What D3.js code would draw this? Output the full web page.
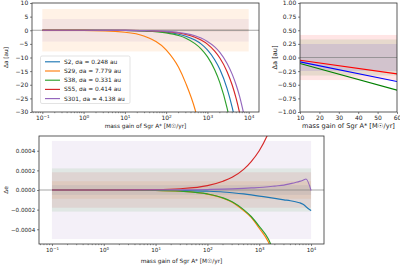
<!DOCTYPE html>
<html>
<head>
<meta charset="utf-8">
<script src="https://cdn.jsdelivr.net/npm/d3@7"></script>
<style>
  body { margin: 0; background: #fff; }
  svg text { font-family: "DejaVu Sans", sans-serif; fill: #222; }
</style>
</head>
<body>
<div id="container"></div>
<script>
/* DATA */
const stars = ["S2", "S29", "S38", "S55", "S301"];
const sigmaA = [0.248, 7.779, 0.331, 0.414, 4.138];
const sigmaE = [0.00005, 0.00009, 0.00022, 0.00018, 0.0005];

const massGain = [0.1, 1, 10, 30, 100, 200, 300, 500, 700, 1000, 1500, 2000, 3000, 4000, 5000, 6000, 7000, 8000, 10000];

// delta a [au]
const dA_S2   = [-0.0007, -0.007, -0.072, -0.22, -0.72, -1.45, -2.2, -3.6, -5.0, -7.2, -10.8, -14.3, -21.4, -28.4, -35.3, -42, -49, -56, -69];
const dA_S29  = [-0.007, -0.072, -0.72, -2.2, -7.2, -13.6, -19.5, -29, -38, -52, -75, -97, -140, -180, -220, -260, -300, -340, -410];
const dA_S38  = [-0.001, -0.0098, -0.098, -0.29, -0.98, -1.95, -2.9, -4.9, -6.8, -9.7, -14.5, -19.2, -28.6, -38, -47, -56, -65, -74, -92];
const dA_S55  = [-0.0005, -0.0052, -0.052, -0.155, -0.52, -1.03, -1.55, -2.6, -3.6, -5.1, -7.7, -10.2, -15.2, -20.2, -25.2, -30.2, -35.2, -40, -50];
const dA_S301 = [-0.0004, -0.004, -0.041, -0.12, -0.41, -0.82, -1.22, -2.03, -2.85, -4.1, -6.1, -8.1, -12.2, -16.2, -20.2, -24.2, -28.3, -32.3, -40.4];

// delta e
const dE_S2   = [0, 0, -0.000001, -0.000005, -0.000012, -0.00002, -0.000028, -0.00004, -0.00005, -0.000062, -0.000075, -0.000085, -0.0001, -0.00011, -0.00012, -0.00013, -0.000145, -0.00017, -0.00021];
const dE_S29  = [0, -0.0000004, -0.000004, -0.000013, -0.000042, -0.000084, -0.000125, -0.00021, -0.00028, -0.00039, -0.00053, -0.0007, -0.001, -0.0013, -0.0016, -0.0019, -0.0022, -0.0025, -0.003];
const dE_S38  = [0, -0.0000004, -0.000004, -0.000012, -0.00004, -0.00008, -0.00012, -0.0002, -0.00027, -0.00037, -0.0005, -0.00066, -0.00097, -0.00125, -0.0015, -0.0018, -0.0021, -0.0024, -0.0029];
const dE_S55  = [0, 0.0000004, 0.000004, 0.000013, 0.000045, 0.00009, 0.00013, 0.00021, 0.00029, 0.0004, 0.00058, 0.00075, 0.0011, 0.00145, 0.0018, 0.0021, 0.0025, 0.0028, 0.0035];
const dE_S301 = [0, 0, 0.000001, 0.000002, 0.000005, 0.000009, 0.000012, 0.000017, 0.000021, 0.000025, 0.000033, 0.00004, 0.00005, 0.000065, 0.000077, 0.000088, 0.0001, 0.000112, -0.000005];

// top-right zoom, linear axis
const massGainLin = [10, 60];
const starsLin = ["S2", "S38", "S55"];
const sigmaALin = [0.248, 0.331, 0.414];
const dALin_S2  = [-0.08, -0.44];
const dALin_S38 = [-0.11, -0.60];
const dALin_S55 = [-0.05, -0.30];

const xTicksLog = [0.1, 1, 10, 100, 1000, 10000];
const yTicksA = [-30, -25, -20, -15, -10, -5, 0, 5, 10];
const xTicksLin = [10, 20, 30, 40, 50, 60];
const yTicksLin = [-1, -0.75, -0.5, -0.25, 0, 0.25, 0.5, 0.75, 1];
const yTicksE = [-0.0004, -0.0002, 0, 0.0002, 0.0004];

/* CONSTANTS */
const width = 400, height = 265;
const tab = ["#1f77b4", "#ff7f0e", "#2ca02c", "#d62728", "#9467bd"];
const linColors = ["blue", "green", "red"];
const xLabel = "mass gain of Sgr A* [M\u2609/yr]";
const minus = s => String(s).replace("-", "\u2212");

const svg = d3.select("#container").append("svg")
  .attr("width", width)
  .attr("height", height);

const lineGen = (x, y) => d3.line()
  .x(d => x(d[0]))
  .y(d => y(d[1]))
  .curve(d3.curveMonotoneX);

function drawPanel(p) {
  const [x0, x1] = p.x.range();
  const [y1, y0] = p.y.range();
  const g = svg.append("g");

  g.append("clipPath").attr("id", "clip-" + p.name)
    .append("rect")
    .attr("x", x0).attr("y", y0)
    .attr("width", x1 - x0).attr("height", y1 - y0);

  const plot = g.append("g").attr("clip-path", `url(#clip-${p.name})`);

  // uncertainty bands
  p.series.forEach(s => {
    plot.append("rect")
      .attr("x", p.x(p.bandX[0]))
      .attr("width", p.x(p.bandX[1]) - p.x(p.bandX[0]))
      .attr("y", p.y(s.sigma))
      .attr("height", p.y(-s.sigma) - p.y(s.sigma))
      .attr("fill", s.color)
      .attr("fill-opacity", 0.1);
  });

  // zero line
  plot.append("line")
    .attr("x1", x0).attr("x2", x1)
    .attr("y1", p.y(0)).attr("y2", p.y(0))
    .attr("stroke", "#808080")
    .attr("stroke-width", 0.7);

  p.series.forEach(s => {
    plot.append("path")
      .datum(p.xs.map((m, i) => [m, s.values[i]]))
      .attr("fill", "none")
      .attr("stroke", s.color)
      .attr("stroke-width", 1.15)
      .attr("d", lineGen(p.x, p.y));
  });

  // frame
  g.append("rect")
    .attr("x", x0).attr("y", y0)
    .attr("width", x1 - x0).attr("height", y1 - y0)
    .attr("fill", "none")
    .attr("stroke", "#333")
    .attr("stroke-width", 0.8);

  // axes
  const xAxis = d3.axisBottom(p.x).tickValues(p.xTicks).tickSize(2).tickPadding(1.8);
  if (p.xFormat) xAxis.tickFormat(p.xFormat);
  const gx = g.append("g")
    .attr("transform", `translate(0, ${y1})`)
    .call(xAxis);
  gx.select(".domain").remove();

  if (p.log) {
    gx.selectAll(".tick text").each(function (d) {
      const t = d3.select(this).text("10");
      t.append("tspan")
        .attr("dy", "-0.45em")
        .attr("font-size", "0.7em")
        .text(minus(Math.round(Math.log10(d))));
    });
    const dom = p.x.domain();
    const minor = [];
    for (let e = -2; e <= 4; e++) {
      for (let m = 2; m <= 9; m++) {
        const v = m * Math.pow(10, e);
        if (v > dom[0] && v < dom[1]) minor.push(v);
      }
    }
    gx.selectAll(".minor").data(minor).join("line")
      .attr("class", "minor")
      .attr("x1", d => p.x(d)).attr("x2", d => p.x(d))
      .attr("y1", 0).attr("y2", 1.2)
      .attr("stroke", "#333").attr("stroke-width", 0.5);
  }

  const gy = g.append("g")
    .attr("transform", `translate(${x0}, 0)`)
    .call(d3.axisLeft(p.y).tickValues(p.yTicks).tickSize(2).tickPadding(1.8).tickFormat(p.yFormat));
  gy.select(".domain").remove();

  [gx, gy].forEach(a => {
    a.attr("font-family", null).attr("font-size", null);
    a.selectAll(".tick text").style("font-size", p.fontSize + "px").attr("fill", "#222");
    a.selectAll(".tick line").attr("stroke", "#333").attr("stroke-width", 0.6);
  });

  g.append("text")
    .attr("x", (x0 + x1) / 2)
    .attr("y", p.xLabelY)
    .attr("text-anchor", "middle")
    .style("font-size", p.labelSize + "px")
    .text(xLabel);

  g.append("text")
    .attr("transform", `translate(${p.yLabelX}, ${(y0 + y1) / 2}) rotate(-90)`)
    .attr("text-anchor", "middle")
    .style("font-size", p.labelSize + "px")
    .text(p.yLabel);

  return g;
}

/* TOP-LEFT: delta a vs mass gain (log) */
const logDomain = [Math.pow(10, -1.25), Math.pow(10, 4.25)];
const dAValues = [dA_S2, dA_S29, dA_S38, dA_S55, dA_S301];

const topLeft = drawPanel({
  name: "tl",
  x: d3.scaleLog().domain(logDomain).range([32, 259]),
  y: d3.scaleLinear().domain([-30, 10]).range([112, 3]),
  log: true,
  xs: massGain,
  bandX: [0.1, 10000],
  series: stars.map((s, i) => ({ color: tab[i], sigma: sigmaA[i], values: dAValues[i] })),
  xTicks: xTicksLog,
  yTicks: yTicksA,
  yFormat: d => minus(d),
  fontSize: 6,
  labelSize: 5.8,
  xLabelY: 128,
  yLabel: "\u0394a [au]",
  yLabelX: 8
});

// legend
const legend = topLeft.append("g").attr("transform", "translate(40.5, 56)");
legend.append("rect")
  .attr("width", 89.5).attr("height", 47.5)
  .attr("rx", 1.5)
  .attr("fill", "#fff").attr("fill-opacity", 0.8)
  .attr("stroke", "#d0d0d0").attr("stroke-width", 0.6);
stars.forEach((s, i) => {
  const row = legend.append("g").attr("transform", `translate(0, ${5.8 + i * 9.2})`);
  row.append("line")
    .attr("x1", 4.5).attr("x2", 19.5)
    .attr("stroke", tab[i]).attr("stroke-width", 1.15);
  row.append("text")
    .attr("x", 23.5).attr("dy", "0.35em")
    .style("font-size", "5.9px")
    .text(`${s}, \u03c3a = ${sigmaA[i].toFixed(3)} au`);
});

/* TOP-RIGHT: linear zoom */
const dALinValues = [dALin_S2, dALin_S38, dALin_S55];
drawPanel({
  name: "tr",
  x: d3.scaleLinear().domain([10, 60]).range([300, 397]),
  y: d3.scaleLinear().domain([-1, 1]).range([112, 3]),
  log: false,
  xs: massGainLin,
  bandX: [10, 60],
  series: starsLin.map((s, i) => ({ color: linColors[i], sigma: sigmaALin[i], values: dALinValues[i] })),
  xTicks: xTicksLin,
  yTicks: yTicksLin,
  xFormat: d3.format("d"),
  yFormat: d => minus(d3.format(".2f")(d)),
  fontSize: 6,
  labelSize: 6.6,
  xLabelY: 128,
  yLabel: "\u0394a [au]",
  yLabelX: 277
});

/* BOTTOM: delta e */
const dEValues = [dE_S2, dE_S29, dE_S38, dE_S55, dE_S301];
drawPanel({
  name: "bt",
  x: d3.scaleLog().domain(logDomain).range([39, 324]),
  y: d3.scaleLinear().domain([-0.00055, 0.00055]).range([244, 136]),
  log: true,
  xs: massGain,
  bandX: [0.1, 10000],
  series: stars.map((s, i) => ({ color: tab[i], sigma: sigmaE[i], values: dEValues[i] })),
  xTicks: xTicksLog,
  yTicks: yTicksE,
  yFormat: d => minus(d3.format(".4f")(d)),
  fontSize: 5.6,
  labelSize: 5.8,
  xLabelY: 263,
  yLabel: "\u0394e",
  yLabelX: 8
});
</script>
</body>
</html>
